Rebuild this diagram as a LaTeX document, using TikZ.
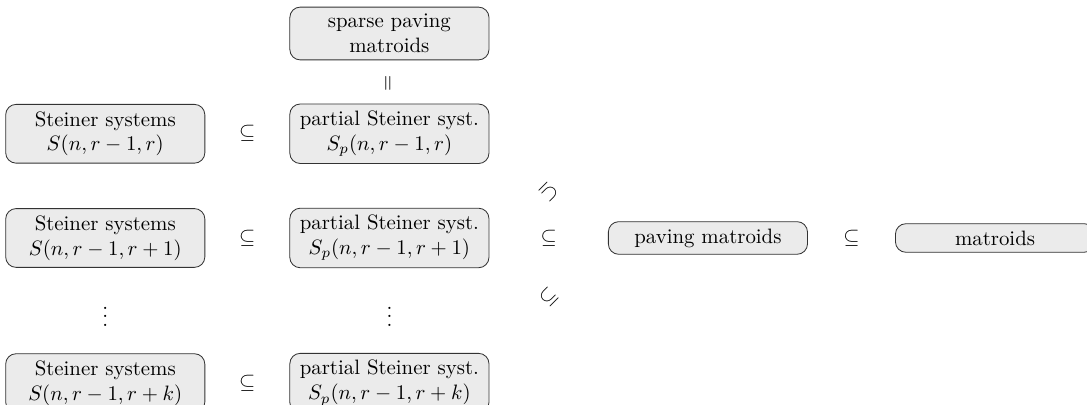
\documentclass[tikz,border=0pt]{standalone}
\usetikzlibrary{positioning, calc}
\usepackage{amsmath}
\definecolor{boxfill}{HTML}{EBEBEB}
\definecolor{boxline}{HTML}{333333}

\begin{document}
\begin{tikzpicture}[
    b/.style={draw=boxline, fill=boxfill, rounded corners=5pt, minimum width=3.36cm, align=center}]
  \useasboundingbox (0,0) rectangle (18.34,-6.83);
  \node[b] (sp) at (6.57,-0.565) {sparse paving\\matroids};
  \node[b, below=0.73cm of sp] (p1) {partial Steiner syst.\\$S_p(n,r-1,r)$};
  \node[b, below=0.74cm of p1] (p2) {partial Steiner syst.\\$S_p(n,r-1,r+1)$};
  \node[b, below=1.43cm of p2] (p3) {partial Steiner syst.\\$S_p(n,r-1,r+k)$};
  \node[b, left=1.42cm of p1] (s1) {Steiner systems\\$S(n,r-1,r)$};
  \node[b, left=1.42cm of p2] (s2) {Steiner systems\\$S(n,r-1,r+1)$};
  \node[b, left=1.42cm of p3] (s3) {Steiner systems\\$S(n,r-1,r+k)$};
  \node[b, right=2cm of p2] (pav) {paving matroids};
  \node[b, right=1.47cm of pav] (mat) {matroids};
  % relations between the boxes
  \node[rotate=90] (eq) at ($(sp)!0.5!(p1)$) {$=$};
  \node (i1) at ($(s1)!0.5!(p1)$) {$\subseteq$};
  \node (i2) at ($(s2)!0.5!(p2)$) {$\subseteq$};
  \node (i3) at ($(s3)!0.5!(p3)$) {$\subseteq$};
  \node (ip) at ($(p2)!0.5!(pav)$) {$\subseteq$};
  \node[rotate=-135] (iu) at ($(ip)+(0,0.77)$) {$\subseteq$};
  \node[rotate=45] (id) at ($(ip)+(0,-1.0)$) {$\subseteq$};
  \node (im) at ($(pav)!0.5!(mat)$) {$\subseteq$};
  \node (d1) at ($(s2)!0.5!(s3)$) {$\vdots$};
  \node (d2) at ($(p2)!0.5!(p3)$) {$\vdots$};
\end{tikzpicture}
\end{document}
